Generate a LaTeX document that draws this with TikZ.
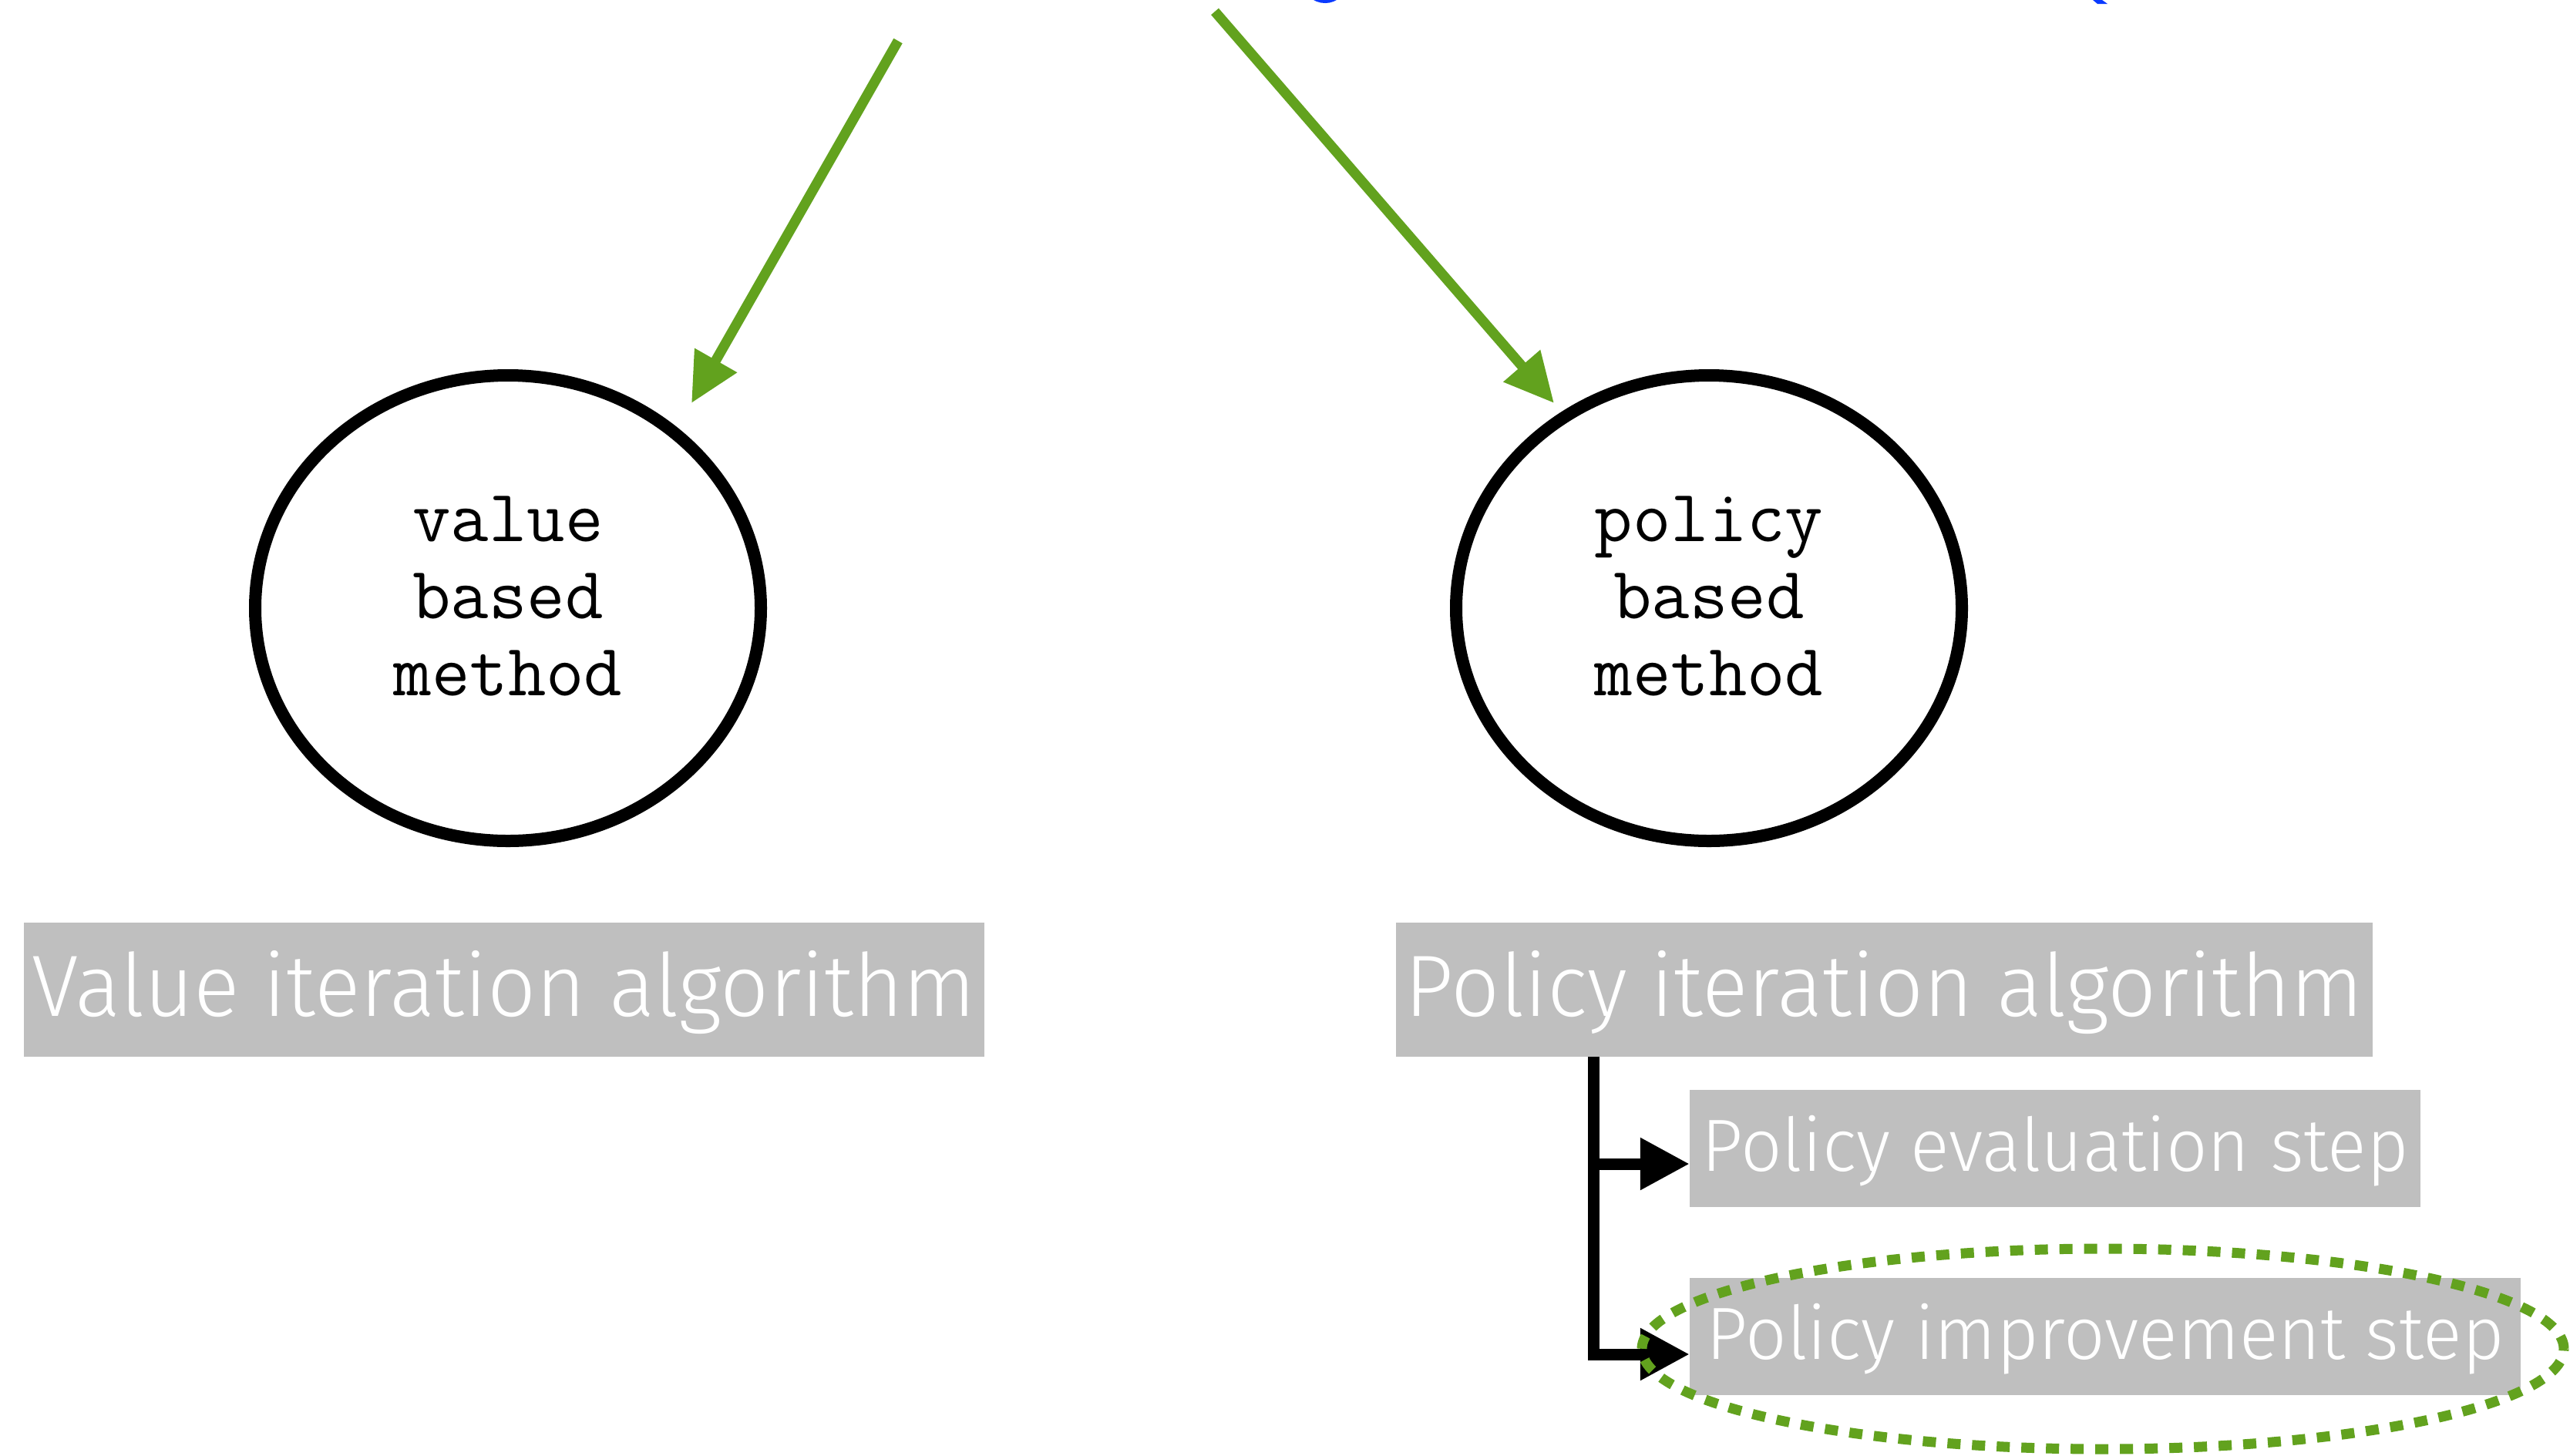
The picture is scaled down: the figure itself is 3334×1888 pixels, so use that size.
\documentclass[tikz,border=0pt]{standalone}
\usepackage{fontspec}
\newfontfamily\boxfont{Fira Sans Light}[FakeStretch=0.98]
\usetikzlibrary{shapes.geometric,arrows.meta,calc}
\definecolor{leafgreen}{RGB}{98,162,30}
\definecolor{boxgray}{RGB}{191,191,191}
\definecolor{titleblue}{RGB}{10,58,255}

\begin{document}
\begin{tikzpicture}[x=1pt,y=-1pt,
  method/.style={ellipse, draw=black, line width=16pt, minimum width=656pt,
    minimum height=604pt, inner sep=0pt},
  methodtext/.style={align=center, inner sep=0pt,
    font=\fontsize{96}{100}\selectfont\ttfamily},
  greenarrow/.style={leafgreen, line width=13pt,
    -{Triangle[length=64pt,width=60pt]}},
  algbox/.style={fill=boxgray, text=white, inner sep=0pt,
    font=\fontsize{113}{113}\selectfont\boxfont, text height=68pt, text depth=0pt},
  stepbox/.style={fill=boxgray, text=white, inner sep=0pt,
    font=\fontsize{96}{96}\selectfont\boxfont, text height=58pt, text depth=0pt},
  bracket/.style={black, line width=15pt, -{Triangle[length=64pt,width=64pt]}},
  highlight/.style={ellipse, draw=leafgreen, line width=13pt,
    dash pattern=on 17pt off 15pt, minimum width=1196pt, minimum height=260pt,
    inner sep=0pt}
]
\useasboundingbox[fill=white] (0,0) rectangle (3334,1888);

% descenders of the heading above the page edge
\draw[titleblue, line width=10pt] (1719,-22) ellipse [x radius=23, y radius=21];
\fill[titleblue] (2715,0) -- (2727,0) -- (2734,5) -- (2721,5) -- cycle;

% the two method families
\node[method] (vb) at (659,789) {};
\node[methodtext] (vbt) at (659,773) {value\\based\\method};
\node[method] (pb) at (2217,789) {};
\node[methodtext] (pbt) at (2217,773) {policy\\based\\method};

% arrows coming down from the heading
\coordinate (ls) at (1165,53);
\coordinate (le) at (897,523);
\coordinate (rs) at (1576,15);
\coordinate (re) at (2016,523);
\draw[greenarrow] (ls) -- (le);
\draw[greenarrow] (rs) -- (re);

% algorithm labels
\node[algbox, minimum width=1246pt, minimum height=174pt] (via) at (654,1284)
  {Value iteration algorithm};
\node[algbox, minimum width=1267pt, minimum height=174pt] (pia) at (2444.5,1284)
  {Policy iteration algorithm};
\node[stepbox, minimum width=948pt, minimum height=152pt] (pev) at (2666,1490)
  {Policy evaluation step};
\node[stepbox, minimum width=1078pt, minimum height=152pt] (pim) at (2731,1734)
  {Policy improvement step};

% the two steps of policy iteration
\coordinate (bx) at (2067,1371);
\draw[bracket] (bx) |- ($(pev.west)+(0,20)$);
\draw[bracket] (bx) |- ($(pim.west)+(0,23)$);

% highlighted step
\node[highlight] (hl) at (2728,1750) {};
\end{tikzpicture}
\end{document}
